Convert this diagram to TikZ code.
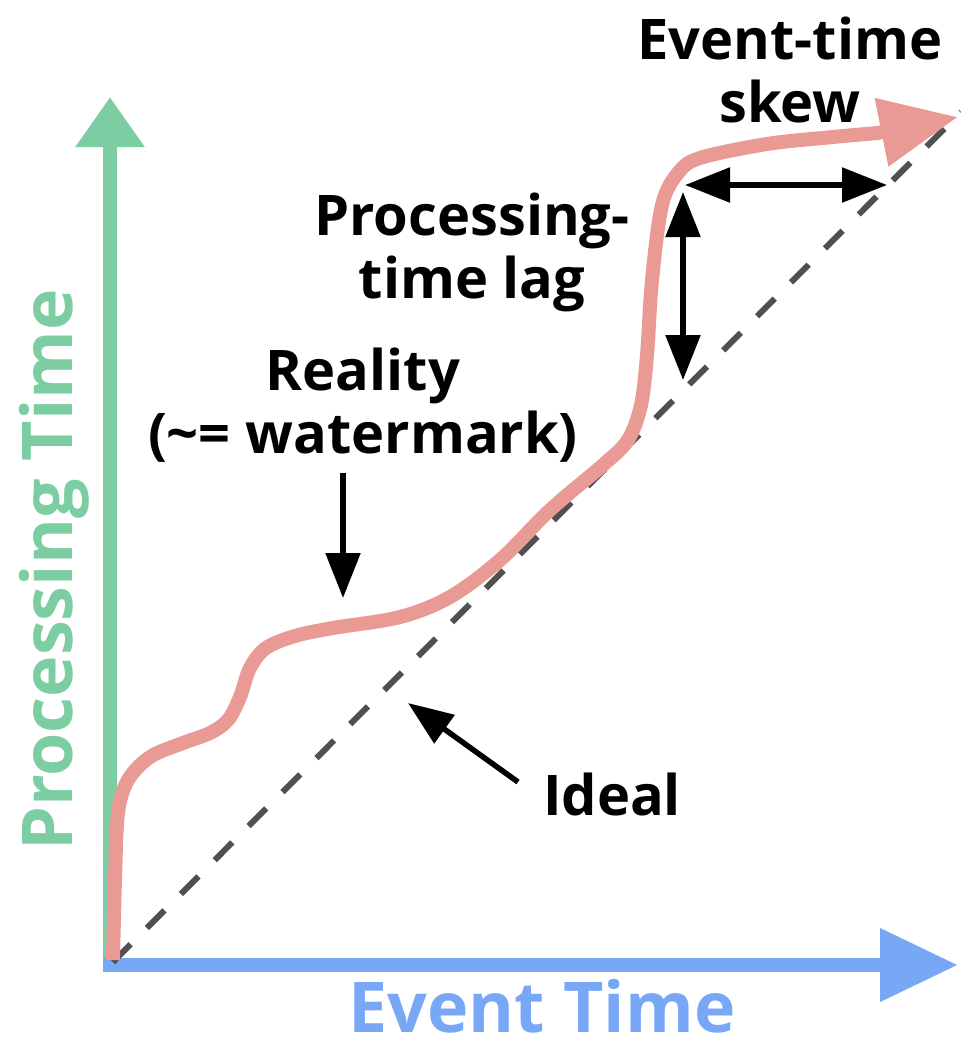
\documentclass[tikz,border=0pt]{standalone}
\usepackage{fontspec}
\setmainfont{Open Sans}
\usetikzlibrary{arrows.meta}
\definecolor{pinkc}{RGB}{234,154,148}
\definecolor{greenc}{RGB}{125,205,163}
\definecolor{bluec}{RGB}{120,168,245}
\definecolor{dashc}{RGB}{80,80,80}
\begin{document}
\begin{tikzpicture}[x=1pt,y=-1pt,
  lbl/.style={font=\fontsize{56}{63}\selectfont\bfseries, align=center, inner sep=0pt, text=black},
  axislbl/.style={font=\fontsize{70}{80}\selectfont\bfseries, inner sep=0pt},
  blackarrow/.style={line width=5.5pt, black, -{Triangle[length=45pt,width=34pt]}},
  blackdouble/.style={line width=5.5pt, black, {Triangle[length=45pt,width=34pt]}-{Triangle[length=45pt,width=34pt]}},
  idealline/.style={line width=6pt, dashc, dash pattern=on 25pt off 23pt},
  reality/.style={line width=14pt, pinkc, line cap=butt, -{Triangle[length=78pt,width=66pt]}}
]
\useasboundingbox (0,0) rectangle (961,1050);
% coordinates
\coordinate (O) at (113,962);
\coordinate (Yend) at (110,97);
\coordinate (Ystart) at (110,972);
\coordinate (Xstart) at (103,965);
\coordinate (Xend) at (958,965);
\coordinate (Dend) at (961,112);
\coordinate (Rtip) at (958,117);
% axes
\draw[line width=14pt, greenc, -{Triangle[length=50pt,width=66pt]}] (Ystart) -- (Yend);
\draw[line width=14pt, bluec, -{Triangle[length=78pt,width=70pt]}] (Xstart) -- (Xend);
% ideal dashed line
\draw[idealline] (O) -- (Dend);
% reality curve
\draw[reality] plot[smooth, tension=0.55] coordinates {
 (113,960) (115,880) (118,813) (128,780) (150,757) (183,743) (210,733)
 (228,720) (240,697) (250,668) (266,648) (295,636) (333,628) (400,617) (450,597)
 (500,560) (550,510) (603,465) (628,440) (641,405) (647,355) (652,280)
 (662,205) (678,173) (700,158) (767,144) (833,137) (878,133)} -- (Rtip);
% labels
\node[lbl] (skew) at (790,70) {Event-time\\skew};
\node[lbl] (lag) at (472,252) {Processing-\\time lag};
\node[lbl] (real) at (363,405) {Reality\\(\textasciitilde= watermark)};
\node[lbl, anchor=base] (ideal) at (612,815) {Ideal};
\node[axislbl, text=bluec, anchor=base] (xlbl) at (542,1032) {Event Time};
\node[axislbl, text=greenc, anchor=base, rotate=90] (ylbl) at (72,570) {Processing Time};
% arrow coordinates
\coordinate (s1) at (685,185);
\coordinate (s2) at (887,185);
\coordinate (l1) at (683,192);
\coordinate (l2) at (683,380);
\coordinate (r1) at (343,473);
\coordinate (r2) at (343,598);
\coordinate (i1) at (518,782);
\coordinate (i2) at (408,703);
\draw[blackdouble] (s1) -- (s2);
\draw[blackdouble] (l1) -- (l2);
\draw[blackarrow] (r1) -- (r2);
\draw[blackarrow] (i1) -- (i2);
\end{tikzpicture}
\end{document}
